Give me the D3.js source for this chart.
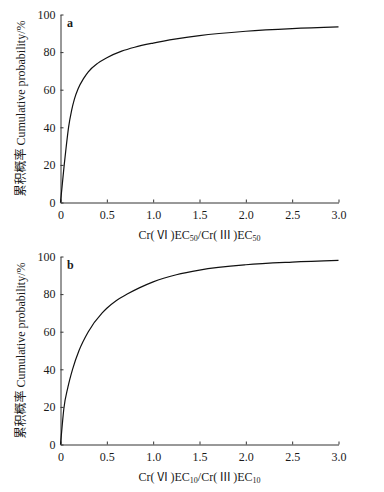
<!DOCTYPE html>
<html>
<head>
<meta charset="utf-8">
<script src="https://cdn.jsdelivr.net/npm/d3@7"></script>
<style>
  body { margin: 0; background: #fff; }
  svg { display: block; }
</style>
</head>
<body>
<div id="chart"></div>
<script>
// values (x = ratio, y = cumulative probability %)
var ratioA = [0, 0.02, 0.04, 0.06, 0.087, 0.12, 0.15, 0.19, 0.25, 0.3, 0.4, 0.5, 0.66, 0.8, 1.0, 1.25, 1.5, 2.0, 2.5, 3.0];
var probA  = [0, 10, 20, 29, 40, 49, 55, 60.5, 66, 69.5, 74, 77, 80.5, 82.6, 84.8, 87, 88.8, 91.1, 92.5, 93.4];

var ratioB = [0, 0.02, 0.036, 0.08, 0.13, 0.2, 0.3, 0.45, 0.5, 0.6, 0.72, 0.85, 1.0, 1.25, 1.5, 2.0, 2.5, 3.0];
var probB  = [0, 11, 19, 30.5, 40, 50, 60, 70, 72.5, 76.5, 80, 83.3, 86.5, 90.3, 92.8, 95.6, 97, 97.9];

var xTicks = [0, 0.5, 1.0, 1.5, 2.0, 2.5, 3.0];
var yTicks = [0, 20, 40, 60, 80, 100];
var yTitle = "累积概率 Cumulative probability/%";

var FONT = "Times New Roman, Liberation Serif, Noto Sans CJK SC, serif";
var W = 384, H = 492;
var svg = d3.select("#chart").append("svg")
    .attr("width", W)
    .attr("height", H)
    .style("font-family", FONT);

var x = d3.scaleLinear().domain([0, 3]).range([60.5, 338.5]);

function drawPanel(top, bottom, ratios, probs, letter, sub) {
    var y = d3.scaleLinear().domain([0, 100]).range([bottom, top]);
    var g = svg.append("g");

    var xAxis = d3.axisBottom(x)
        .tickValues(xTicks)
        .tickFormat(function (d) { return d === 0 ? "0" : d3.format(".1f")(d); })
        .tickSizeInner(-3)
        .tickSizeOuter(0)
        .tickPadding(6);

    var gx = g.append("g")
        .attr("transform", "translate(0," + bottom + ")")
        .call(xAxis);

    var yAxis = d3.axisLeft(y)
        .tickValues(yTicks)
        .tickSizeInner(-3)
        .tickSizeOuter(0)
        .tickPadding(5);

    var gy = g.append("g")
        .attr("transform", "translate(60.5,0)")
        .call(yAxis);

    [gx, gy].forEach(function (a) {
        a.attr("font-family", null).attr("font-size", 12);
        a.selectAll("path, line").attr("stroke", "#333").attr("stroke-width", 1);
        a.selectAll("text").attr("fill", "#1a1a1a").style("font-family", FONT);
    });
    gx.selectAll(".tick text").attr("dy", "0.9em");

    // the curve
    var pts = ratios.map(function (r, i) { return [r, probs[i]]; });
    var line = d3.line()
        .x(function (d) { return x(d[0]); })
        .y(function (d) { return y(d[1]); })
        .curve(d3.curveMonotoneX);

    g.append("path")
        .datum(pts)
        .attr("fill", "none")
        .attr("stroke", "#111")
        .attr("stroke-width", 1.2)
        .attr("d", line);

    // panel letter
    g.append("text")
        .attr("x", 67)
        .attr("y", top + 12)
        .attr("font-size", 12)
        .attr("font-weight", "bold")
        .attr("fill", "#1a1a1a")
        .text(letter);

    // y title
    g.append("text")
        .attr("transform", "translate(25," + ((top + bottom) / 2) + ") rotate(-90)")
        .attr("text-anchor", "middle")
        .attr("font-size", 12)
        .attr("fill", "#1a1a1a")
        .text(yTitle);

    // x title with subscripts
    var t = g.append("text")
        .attr("x", (x(0) + x(3)) / 2)
        .attr("y", bottom + 36)
        .attr("text-anchor", "middle")
        .attr("font-size", 12)
        .attr("fill", "#1a1a1a");
    t.append("tspan").text("Cr(\u2006");
    t.append("tspan").text("Ⅵ");
    t.append("tspan").text("\u2006)EC");
    t.append("tspan").attr("font-size", 8).attr("dy", 2).text(sub);
    t.append("tspan").attr("dy", -2).text("/Cr(\u2006");
    t.append("tspan").text("Ⅲ");
    t.append("tspan").text("\u2006)EC");
    t.append("tspan").attr("font-size", 8).attr("dy", 2).text(sub);
}

drawPanel(14.5, 202.5, ratioA, probA, "a", "50");
drawPanel(256.5, 444.5, ratioB, probB, "b", "10");
</script>
</body>
</html>
